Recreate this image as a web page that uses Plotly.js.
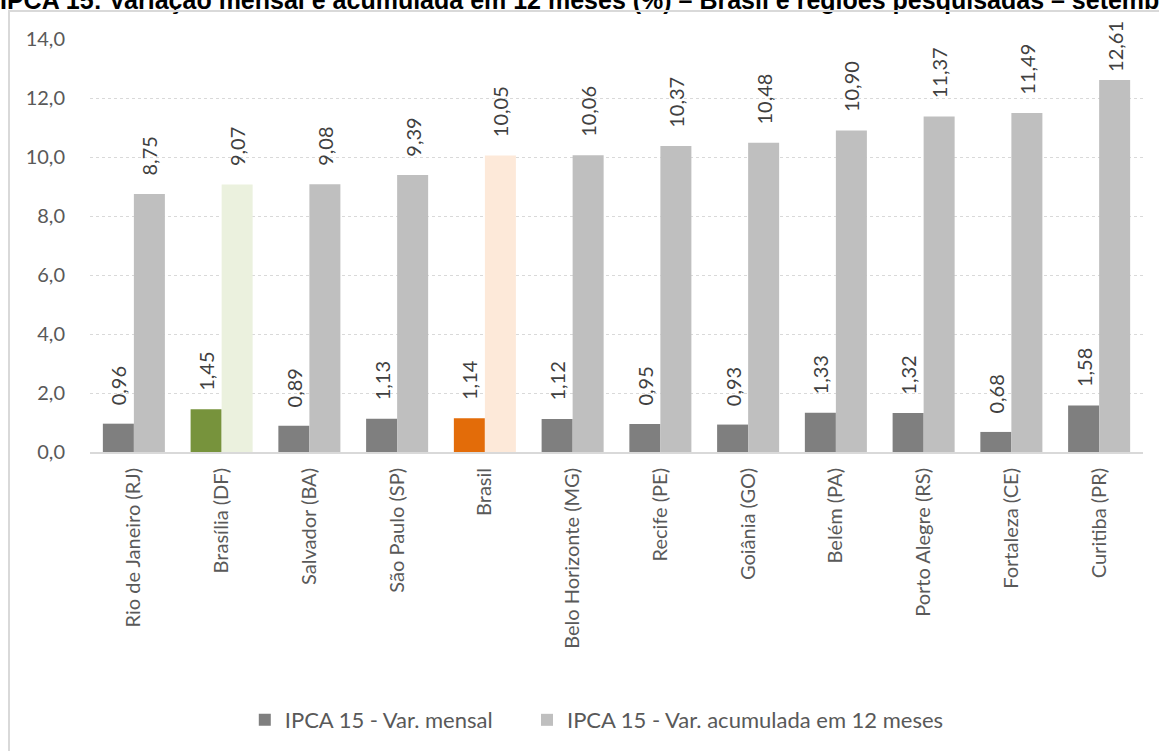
<!DOCTYPE html>
<html>
<head>
<meta charset="utf-8">
<script src="https://cdn.plot.ly/plotly-3.0.1.min.js"></script>
<style>
  html, body { margin: 0; padding: 0; background: #fff; }
  #wrap { position: relative; width: 1159px; height: 751px; overflow: hidden; }
  #chart { position: absolute; left: 0; top: 0; width: 1159px; height: 751px; }
  #frame { position: absolute; left: 8px; top: 10px; width: 1170px; height: 760px;
           border: 2px solid #d9d9d9; box-sizing: border-box; pointer-events: none; }
</style>
</head>
<body>
<div id="wrap">
  <div id="chart"></div>
  <div id="frame"></div>
</div>
<script>
const categories = ["Rio de Janeiro (RJ)", "Brasília (DF)", "Salvador (BA)", "São Paulo (SP)", "Brasil",
  "Belo Horizonte (MG)", "Recife (PE)", "Goiânia (GO)", "Belém (PA)", "Porto Alegre (RS)",
  "Fortaleza (CE)", "Curitiba (PR)"];
const varMensal = [0.96, 1.45, 0.89, 1.13, 1.14, 1.12, 0.95, 0.93, 1.33, 1.32, 0.68, 1.58];
const varAcum12 = [8.75, 9.07, 9.08, 9.39, 10.05, 10.06, 10.37, 10.48, 10.90, 11.37, 11.49, 12.61];
const seriesNames = ["IPCA 15 - Var. mensal", "IPCA 15 - Var. acumulada em 12 meses"];
const titleText = "IPCA 15: Variação mensal e acumulada em 12 meses (%) – Brasil e regiões pesquisadas – setembro";

const darkColors = categories.map(c => c === "Brasília (DF)" ? "#77933c" : (c === "Brasil" ? "#e36c09" : "#7f7f7f"));
const lightColors = categories.map(c => c === "Brasília (DF)" ? "#ebf1de" : (c === "Brasil" ? "#fde9d9" : "#bfbfbf"));

// labels near the top of the axis are pulled closer to the bar, as in the source chart
const fmt = v => (v > 12.5 ? "\u00a0" : "\u00a0\u00a0\u00a0") + v.toFixed(2).replace(".", ",");

const labelFont = { family: "Lato, 'Open Sans', sans-serif", size: 20, color: "#404040" };

const traces = [
  {
    type: "bar", name: seriesNames[0], x: categories, y: varMensal,
    marker: { color: darkColors }, legend: "legend",
    text: varMensal.map(fmt), textposition: "outside", textangle: -90, constraintext: "none",
    textfont: labelFont, cliponaxis: false, hoverinfo: "x+y"
  },
  {
    type: "bar", name: seriesNames[1], x: categories, y: varAcum12,
    marker: { color: lightColors }, legend: "legend2",
    text: varAcum12.map(fmt), textposition: "outside", textangle: -90, constraintext: "none",
    textfont: labelFont, cliponaxis: false, hoverinfo: "x+y"
  }
];

const legendFont = { family: "Lato, 'Open Sans', sans-serif", size: 22, color: "#595959" };

const layout = {
  width: 1159, height: 751,
  margin: { l: 90, r: 16, t: 39, b: 298 },
  paper_bgcolor: "#ffffff", plot_bgcolor: "#ffffff",
  separators: ",.",
  barmode: "group", bargap: 0.293, bargroupgap: 0,
  showlegend: true,
  font: { family: "Lato, 'Open Sans', sans-serif", color: "#595959", size: 20 },
  xaxis: {
    type: "category", tickangle: -90, showgrid: false,
    showline: true, linecolor: "#d9d9d9", linewidth: 2,
    ticks: "outside", ticklen: 6, tickcolor: "rgba(0,0,0,0)",
    tickfont: { family: "Lato, 'Open Sans', sans-serif", size: 20, color: "#595959" },
    fixedrange: true
  },
  yaxis: {
    range: [0, 14], dtick: 2, tickformat: ".1f",
    showgrid: true, gridcolor: "#d9d9d9", griddash: "dot", gridwidth: 1,
    zeroline: false, showline: false,
    ticks: "outside", ticklen: 20, tickcolor: "rgba(0,0,0,0)",
    tickfont: { family: "Lato, 'Open Sans', sans-serif", size: 20, color: "#595959" },
    fixedrange: true
  },
  legend: {
    orientation: "h", x: 0.147, xanchor: "left", y: -0.645, yanchor: "middle",
    font: legendFont, itemwidth: 30
  },
  legend2: {
    orientation: "h", x: 0.415, xanchor: "left", y: -0.645, yanchor: "middle",
    font: legendFont, itemwidth: 30
  },
  annotations: [{
    text: titleText, xref: "paper", yref: "paper",
    x: -0.087, xanchor: "left", y: 1.0942, yanchor: "middle",
    showarrow: false, font: { family: "'Liberation Sans', Arial, sans-serif", size: 25, color: "#000000", weight: "bold" }
  }]
};

Plotly.newPlot("chart", traces, layout, { displayModeBar: false, staticPlot: true });
</script>
</body>
</html>
